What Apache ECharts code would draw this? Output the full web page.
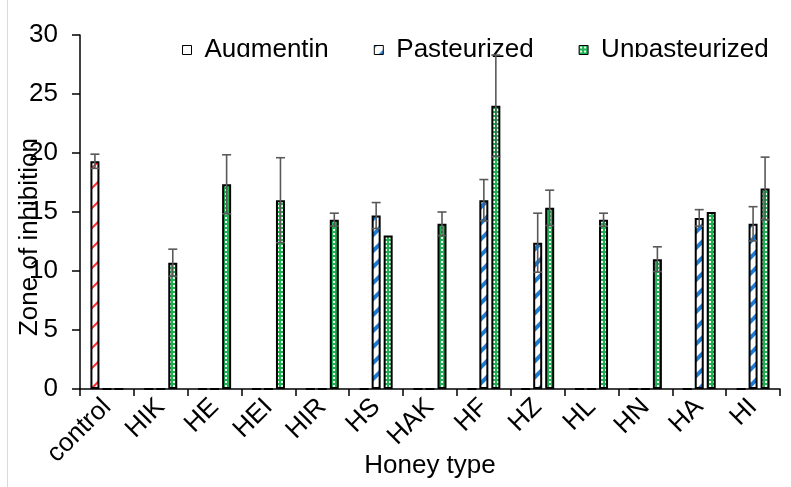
<!DOCTYPE html>
<html>
<head>
<meta charset="utf-8">
<script src="https://cdn.jsdelivr.net/npm/echarts@6/dist/echarts.min.js"></script>
<style>
html,body{margin:0;padding:0;background:#fff;}
#chart{width:791px;height:487px;}
</style>
</head>
<body>
<div id="chart"></div>
<script>
// ---- data ----
const categories = ['control','HIK','HE','HEI','HIR','HS','HAK','HF','HZ','HL','HN','HA','HI'];
const augmentin      = [19.3, 0, 0, 0, 0, 0, 0, 0, 0, 0, 0, 0, 0];
const augmentinErr   = [0.6, 0, 0, 0, 0, 0, 0, 0, 0, 0, 0, 0, 0];
const pasteurized    = [0, 0, 0, 0, 0, 14.7, 0, 16.0, 12.4, 0, 0, 14.5, 14.0];
const pasteurizedErr = [0, 0, 0, 0, 0, 1.1, 0, 1.75, 2.5, 0, 0, 0.7, 1.45];
const unpasteurized    = [0, 10.7, 17.35, 16.0, 14.35, 13.0, 14.0, 24.0, 15.35, 14.35, 11.0, 15.0, 17.0];
const unpasteurizedErr = [0, 1.15, 2.5, 3.6, 0.55, 0, 1.0, 4.3, 1.5, 0.55, 1.05, 0, 2.65];
const yTicks = { min: 0, max: 30, interval: 5 };
const seriesNames = ['Augmentin', 'Pasteurized', 'Unpasteurized'];

// ---- styles ----
const FONT = "'Liberation Sans', Arial, sans-serif";
const FS = 26;
const BAR_W = 9;
const BAR_GAP = 1/3;

function makePattern(size, bg, draw) {
  const c = document.createElement('canvas');
  c.width = size; c.height = size;
  const ctx = c.getContext('2d');
  ctx.fillStyle = bg; ctx.fillRect(0, 0, size, size);
  draw(ctx, size);
  return { image: c, repeat: 'repeat' };
}
// stripes along x+y = k*s
function diagLines(color, width) {
  return function (ctx, s) {
    ctx.strokeStyle = color; ctx.lineWidth = width;
    for (let k = 0; k <= 2; k++) {
      ctx.beginPath();
      ctx.moveTo(k * s + 4, -4);
      ctx.lineTo(-4, k * s + 4);
      ctx.stroke();
    }
  };
}
const redPat = makePattern(20, '#ffffff', diagLines('#ff3030', 2));
const bluePat = makePattern(16, '#ffffff', diagLines('#1f7bd1', 4));
const greenPat = makePattern(4, '#1fb152', function (ctx) {
  ctx.fillStyle = '#f2fff5';
  ctx.fillRect(1, 1, 2, 2);
});
const patterns = [redPat, bluePat, greenPat];
const values = [augmentin, pasteurized, unpasteurized];
const errs = [augmentinErr, pasteurizedErr, unpasteurizedErr];

const chart = echarts.init(document.getElementById('chart'), null, { renderer: 'canvas' });

const series = [];
seriesNames.forEach(function (name, s) {
  series.push({
    name: name,
    type: 'bar',
    data: values[s],
    barWidth: BAR_W,
    barGap: (BAR_GAP * 100) + '%',
    itemStyle: { color: patterns[s], borderColor: '#000', borderWidth: 2 },
    emphasis: { disabled: true },
    z: 2
  });
});
const spacing = BAR_W * (1 + BAR_GAP);
seriesNames.forEach(function (name, s) {
  const data = [];
  values[s].forEach(function (v, i) {
    if (errs[s][i] > 0) data.push([i, v, errs[s][i]]);
  });
  series.push({
    name: name + ' error',
    type: 'custom',
    z: 10,
    silent: true,
    encode: { x: 0, y: 1 },
    data: data,
    renderItem: function (params, api) {
      const i = api.value(0), v = api.value(1), e = api.value(2);
      const top = api.coord([i, v + e]);
      const bot = api.coord([i, v - e]);
      const x = top[0] + (s - 1) * spacing;
      const st = { stroke: '#595959', lineWidth: 1.6 };
      const cap = 4.5;
      return {
        type: 'group',
        children: [
          { type: 'line', shape: { x1: x, y1: top[1], x2: x, y2: bot[1] }, style: st },
          { type: 'line', shape: { x1: x - cap, y1: top[1], x2: x + cap, y2: top[1] }, style: st },
          { type: 'line', shape: { x1: x - cap, y1: bot[1], x2: x + cap, y2: bot[1] }, style: st }
        ]
      };
    }
  });
});

chart.setOption({
  animation: false,
  backgroundColor: '#ffffff',
  textStyle: { fontFamily: FONT },
  grid: { left: 80, right: 11, top: 35, bottom: 98, containLabel: false, outerBoundsMode: 'none' },
  legend: {
    data: seriesNames,
    left: 182,
    top: 37,
    padding: 0,
    itemGap: 45,
    itemWidth: 9,
    itemHeight: 9,
    icon: 'rect',
    itemStyle: { borderColor: '#000', borderWidth: 1 },
    textStyle: { fontFamily: FONT, fontSize: FS, color: '#000', padding: [0, 0, 0, 8] },
    selectedMode: false
  },
  xAxis: {
    type: 'category',
    data: categories,
    name: 'Honey type',
    nameLocation: 'middle',
    nameGap: 64,
    nameMoveOverlap: false,
    nameTextStyle: { fontFamily: FONT, fontSize: FS, color: '#000' },
    axisLine: { show: true, lineStyle: { color: '#000', width: 1.5 } },
    axisTick: { show: true, length: 7, lineStyle: { color: '#000', width: 1.5 } },
    axisLabel: { rotate: 45, fontFamily: FONT, fontSize: FS, color: '#000', margin: 14, interval: 0 },
    splitLine: { show: false }
  },
  yAxis: {
    type: 'value',
    min: yTicks.min,
    max: yTicks.max,
    interval: yTicks.interval,
    axisLine: { show: true, lineStyle: { color: '#000', width: 1.5 } },
    axisTick: { show: true, length: 8, lineStyle: { color: '#000', width: 1.5 } },
    axisLabel: { fontFamily: FONT, fontSize: FS, color: '#000', margin: 22 },
    splitLine: { show: false }
  },
  graphic: [
    { type: 'rect', z: 5, shape: { x: 170, y: 57, width: 610, height: 12 }, style: { fill: '#ffffff' }, silent: true },
    { type: 'line', z: 0, shape: { x1: 7.5, y1: 0, x2: 7.5, y2: 487 }, style: { stroke: '#d9d9d9', lineWidth: 1 }, silent: true },
    { type: 'text', z: 20, x: 30, y: 237, rotation: Math.PI / 2,
      style: { text: 'Zone of inhibition', fontFamily: FONT, fontSize: FS, fill: '#000', align: 'center', verticalAlign: 'middle' } }
  ],
  series: series
});
</script>
</body>
</html>
